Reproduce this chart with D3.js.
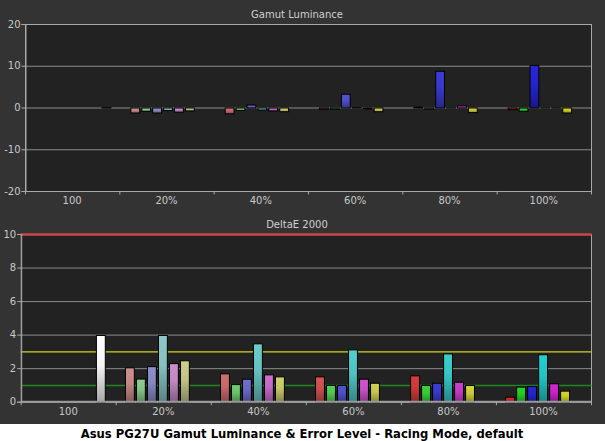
<!DOCTYPE html>
<html>
<head>
<meta charset="utf-8">
<script src="https://cdn.jsdelivr.net/npm/d3@7"></script>
<style>
  body { margin: 0; background: #333; }
  svg { display: block; }
  .tick text { fill: #c8c8c8; font-family: "DejaVu Sans", sans-serif; font-size: 10px; }
</style>
</head>
<body>
<script>
// chart size
var w = 605, h = 441;

// categories
var groups = ["100", "20%", "40%", "60%", "80%", "100%"];
var series = ["Red", "Green", "Blue", "Cyan", "Magenta", "Yellow", "White"];

// gamut luminance error (%) per series, one value per group
var lumRed     = [null, -1.2, -1.4, -0.3,  0.2, -0.4];
var lumGreen   = [null, -0.8, -0.6, -0.3, -0.3, -0.8];
var lumBlue    = [null, -1.2,  0.7,  3.3,  8.8, 10.2];
var lumCyan    = [null, -0.6, -0.5,  0.1,  0.05, 0.05];
var lumMagenta = [null, -1.0, -0.7, -0.2,  0.5,  0.05];
var lumYellow  = [null, -0.7, -0.9, -0.9, -1.1, -1.2];
var lumWhite   = [0.1, null, null, null, null, null];

// deltaE 2000 per series, one value per group
var deRed     = [null, 2.05, 1.69, 1.51, 1.57, 0.30];
var deGreen   = [null, 1.38, 1.05, 1.00, 1.00, 0.90];
var deBlue    = [null, 2.12, 1.37, 1.00, 1.13, 0.94];
var deCyan    = [null, 3.98, 3.48, 3.12, 2.88, 2.83];
var deMagenta = [null, 2.30, 1.63, 1.37, 1.19, 1.10];
var deYellow  = [null, 2.47, 1.51, 1.13, 1.00, 0.66];
var deWhite   = [3.98, null, null, null, null, null];

// tick labels
var lumTicks = [-20, -10, 0, 10, 20];
var deTicks = [0, 2, 4, 6, 8, 10];

// reference lines on the deltaE chart
var deLimits = [10, 3, 1];

var lumData = [lumRed, lumGreen, lumBlue, lumCyan, lumMagenta, lumYellow, lumWhite];
var deData = [deRed, deGreen, deBlue, deCyan, deMagenta, deYellow, deWhite];

var baseColor = {
  Red: "#d02424", Green: "#22cc22", Blue: "#2424cc", Cyan: "#22c4c4",
  Magenta: "#c824c8", Yellow: "#cccc22", White: "#f4f4f4"
};

// desaturate the 100% colour toward gray for lower saturation groups
function barColor(s, g) {
  if (s === "White") return baseColor.White;
  var sat = groups[g] === "100" ? 1 : parseFloat(groups[g]) / 100;
  return d3.interpolateRgb("#bcbcbc", baseColor[s])(Math.pow(sat, 0.65));
}

var svg = d3.select("body")
  .append("svg")
  .attr("width", w)
  .attr("height", h);

svg.append("rect")
  .attr("width", w).attr("height", h)
  .attr("fill", "#333");

var defs = svg.append("defs");
var gradId = {};
series.forEach(function(s, si){
  groups.forEach(function(gname, gi){
    var c = d3.color(barColor(s, gi));
    var id = "g" + si + "_" + gi;
    var lg = defs.append("linearGradient")
      .attr("id", id)
      .attr("x1", 0).attr("y1", 0).attr("x2", 0).attr("y2", 1);
    lg.append("stop").attr("offset", "0%").attr("stop-color", c.brighter(0.15));
    lg.append("stop").attr("offset", "45%").attr("stop-color", c);
    lg.append("stop").attr("offset", "100%").attr("stop-color", c.darker(1.1));
    gradId[si + "_" + gi] = id;
  });
});

function flatten(data) {
  var out = [];
  data.forEach(function(arr, si){
    arr.forEach(function(v, gi){
      if (v !== null) out.push({ s: si, g: gi, v: v });
    });
  });
  return out;
}

function drawChart(opt) {
  var x0 = opt.left, x1 = 591, y0 = opt.top, y1 = opt.bottom;

  var x = d3.scaleBand().domain(groups).range([x0, x1]);
  var xi = d3.scaleBand().domain(series)
    .range([0, x.bandwidth()])
    .paddingInner(0.1)
    .paddingOuter(0.87)
    .align(opt.align);
  var y = d3.scaleLinear().domain(opt.domain).range([y1, y0]);
  var xEdge = d3.scaleLinear().domain([0, groups.length]).range([x0, x1]);

  var g = svg.append("g");

  g.append("rect")
    .attr("x", x0).attr("y", y0)
    .attr("width", x1 - x0).attr("height", y1 - y0)
    .attr("fill", "#222");

  // horizontal grid
  g.selectAll(".grid")
    .data(opt.ticks)
    .enter()
    .append("line")
    .attr("x1", x0).attr("x2", x1)
    .attr("y1", function(d){ return y(d) + 0.5; })
    .attr("y2", function(d){ return y(d) + 0.5; })
    .attr("stroke", "#8c8c8c")
    .attr("stroke-width", 1);

  // frame
  g.append("rect")
    .attr("x", x0 + 0.5).attr("y", y0 + 0.5)
    .attr("width", x1 - x0).attr("height", y1 - y0)
    .attr("fill", "none")
    .attr("stroke", "#a8a8a8");

  // reference lines
  if (opt.limits) {
    var limColor = { 10: "#c84848", 3: "#d4d41c", 1: "#1e8a1e" };
    g.selectAll(".limit")
      .data(opt.limits)
      .enter()
      .append("line")
      .attr("x1", x0).attr("x2", x1 + 0.5)
      .attr("y1", function(d){ return y(d) + 0.5; })
      .attr("y2", function(d){ return y(d) + 0.5; })
      .attr("stroke", function(d){ return limColor[d]; })
      .attr("stroke-width", function(d){ return d === 10 ? 2.5 : (d === 1 ? 1.6 : 1.2); });
  }

  // bars
  g.selectAll(".bar")
    .data(flatten(opt.data))
    .enter()
    .append("rect")
    .attr("class", "bar")
    .attr("x", function(d){ return x(groups[d.g]) + xi(series[d.s]) + 0.5; })
    .attr("width", xi.bandwidth() - 1)
    .attr("y", function(d){ return Math.min(y(d.v), y(0)) + 0.5; })
    .attr("height", function(d){ return Math.abs(y(d.v) - y(0)); })
    .attr("fill", function(d){ return "url(#" + gradId[d.s + "_" + d.g] + ")"; })
    .attr("stroke", "#000")
    .attr("stroke-width", 1);

  // zero baseline on the deltaE chart is heavier
  if (opt.baseline) {
    g.append("line")
      .attr("x1", x0).attr("x2", x1)
      .attr("y1", y1).attr("y2", y1)
      .attr("stroke", "#9a9a9a")
      .attr("stroke-width", 2);
  }

  // y axis (plain hyphen for negatives, like the original)
  g.append("g")
    .attr("transform", "translate(" + (x0 + 0.5) + ",0)")
    .call(d3.axisLeft(y).tickValues(opt.ticks).tickSize(4).tickPadding(1)
      .tickFormat(function(d){ return String(d); }))
    .call(function(a){
      a.select(".domain").attr("stroke", "#a8a8a8");
      a.selectAll(".tick line").attr("stroke", "#a8a8a8");
    });

  // group boundary ticks
  g.append("g")
    .attr("transform", "translate(0," + (y1 + 0.5) + ")")
    .call(d3.axisBottom(xEdge).ticks(groups.length).tickFormat("").tickSize(3))
    .call(function(a){
      a.select(".domain").remove();
      a.selectAll(".tick line").attr("stroke", "#a8a8a8");
    });

  // group labels
  g.append("g")
    .attr("transform", "translate(0," + (y1 + 2) + ")")
    .call(d3.axisBottom(x).tickSize(0).tickPadding(4))
    .call(function(a){ a.select(".domain").remove(); });

  // title
  g.append("text")
    .attr("x", 297)
    .attr("y", y0 - 6)
    .attr("text-anchor", "middle")
    .attr("fill", "#d0d0d0")
    .style("font-family", "DejaVu Sans, sans-serif")
    .style("font-size", "10px")
    .text(opt.title);
}

drawChart({
  title: "Gamut Luminance", data: lumData, domain: [-20, 20], ticks: lumTicks,
  left: 25, top: 24, bottom: 191, align: 0.58
});

drawChart({
  title: "DeltaE 2000", data: deData, domain: [0, 10], ticks: deTicks,
  left: 20.7, top: 234, bottom: 401.7, align: 0.48, limits: deLimits, baseline: true
});

// caption strip
svg.append("rect")
  .attr("x", 0).attr("y", 424)
  .attr("width", w).attr("height", h - 424)
  .attr("fill", "#fff");

svg.append("text")
  .attr("x", 302)
  .attr("y", 437.5)
  .attr("text-anchor", "middle")
  .attr("fill", "#000")
  .style("font-family", "DejaVu Sans, sans-serif")
  .style("font-weight", "bold")
  .style("font-size", "11.6px")
  .text("Asus PG27U Gamut Luminance & Error Level - Racing Mode, default");
</script>
</body>
</html>
